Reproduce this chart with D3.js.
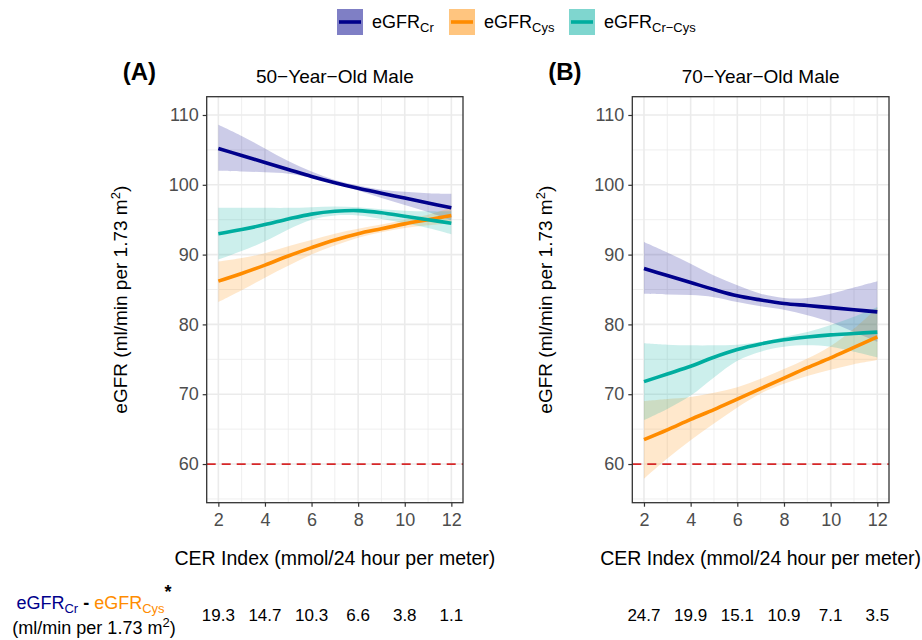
<!DOCTYPE html>
<html>
<head>
<meta charset="utf-8">
<script src="https://cdn.jsdelivr.net/npm/d3@7"></script>
<style>
    html, body { margin: 0; padding: 0; background: #fff; }
    svg { display: block; font-family: "Liberation Sans", Arial, sans-serif; }
</style>
</head>
<body>
<svg id="chart" width="922" height="640"></svg>
<script>
// eGFR vs CER index, two panels (50 and 70 year old male)

const CER = [2, 3, 4, 5, 6, 7, 8, 9, 10, 11, 12];
const X_TICKS = [2, 4, 6, 8, 10, 12];
const Y_TICKS = [60, 70, 80, 90, 100, 110];

// panel A: 50-year-old male
const A_CR_FIT = [105.2, 104.2, 103.2, 102.2, 101.2, 100.3, 99.5, 98.8, 98.1, 97.4, 96.7];
const A_CR_LO  = [102.0, 101.9, 101.8, 101.6, 101.0, 100.1, 99.2, 98.1, 97.1, 96.1, 94.9];
const A_CR_HI  = [108.6, 107.0, 105.2, 103.4, 101.9, 100.7, 99.9, 99.3, 99.0, 98.8, 98.7];
const A_CYS_FIT = [86.2, 87.3, 88.5, 89.8, 91.0, 92.1, 93.0, 93.7, 94.4, 95.0, 95.6];
const A_CYS_LO  = [83.2, 84.9, 86.7, 88.4, 90.0, 91.3, 92.4, 93.2, 93.8, 94.2, 94.5];
const A_CYS_HI  = [89.0, 89.5, 90.2, 91.2, 92.1, 93.0, 93.7, 94.3, 95.0, 95.7, 96.7];
const A_CC_FIT = [93.0, 93.6, 94.3, 95.1, 95.8, 96.2, 96.3, 96.0, 95.5, 95.0, 94.5];
const A_CC_LO  = [89.3, 90.5, 91.9, 93.6, 95.0, 95.6, 95.6, 95.1, 94.5, 93.8, 92.9];
const A_CC_HI  = [96.7, 96.7, 96.7, 96.7, 96.8, 96.9, 96.8, 96.5, 96.3, 96.2, 96.2];

// panel B: 70-year-old male
const B_CR_FIT = [88.0, 87.0, 86.0, 85.0, 84.1, 83.5, 83.0, 82.7, 82.4, 82.1, 81.8];
const B_CR_LO  = [84.4, 84.3, 84.2, 83.9, 83.2, 82.6, 82.1, 81.3, 80.3, 78.9, 77.5];
const B_CR_HI  = [91.8, 90.3, 88.7, 87.0, 85.6, 84.4, 83.8, 83.8, 84.4, 85.3, 86.2];
const B_CYS_FIT = [63.5, 64.9, 66.4, 67.8, 69.3, 70.8, 72.3, 73.8, 75.2, 76.7, 78.2];
const B_CYS_LO  = [57.9, 60.8, 63.4, 65.8, 68.1, 70.1, 71.5, 72.6, 73.5, 74.3, 74.9];
const B_CYS_HI  = [69.0, 69.3, 69.6, 70.2, 71.0, 72.2, 73.6, 75.1, 76.9, 79.4, 82.4];
const B_CC_FIT = [71.8, 72.9, 74.0, 75.3, 76.4, 77.2, 77.8, 78.2, 78.5, 78.7, 78.9];
const B_CC_LO  = [66.3, 67.9, 69.8, 72.4, 74.8, 76.1, 76.8, 77.0, 76.8, 76.1, 75.3];
const B_CC_HI  = [77.3, 77.1, 77.0, 77.0, 77.1, 77.5, 78.2, 78.9, 79.9, 81.1, 82.5];

// eGFRCr - eGFRCys at CER 2,4,...,12
const A_DIFF = ['19.3', '14.7', '10.3', '6.6', '3.8', '1.1'];
const B_DIFF = ['24.7', '19.9', '15.1', '10.9', '7.1', '3.5'];

(function () {
    const COL_CR = '#00008B';
    const COL_CYS = '#FF8C00';
    const COL_CC = '#00AD9F';
    const GRID = '#EBEBEB';
    const FONT_AXIS = 19.5;

    const svg = d3.select('#chart');

    const panels = [
        { tag: '(A)', title: '50\u2212Year\u2212Old Male', left: 206.7, right: 463, diff: A_DIFF,
          series: [
              { fit: A_CR_FIT, lo: A_CR_LO, hi: A_CR_HI, color: COL_CR },
              { fit: A_CYS_FIT, lo: A_CYS_LO, hi: A_CYS_HI, color: COL_CYS },
              { fit: A_CC_FIT, lo: A_CC_LO, hi: A_CC_HI, color: COL_CC }
          ] },
        { tag: '(B)', title: '70\u2212Year\u2212Old Male', left: 632.3, right: 889, diff: B_DIFF,
          series: [
              { fit: B_CR_FIT, lo: B_CR_LO, hi: B_CR_HI, color: COL_CR },
              { fit: B_CYS_FIT, lo: B_CYS_LO, hi: B_CYS_HI, color: COL_CYS },
              { fit: B_CC_FIT, lo: B_CC_LO, hi: B_CC_HI, color: COL_CC }
          ] }
    ];

    const TOP = 96.7, BOTTOM = 502.7;

    const y = d3.scaleLinear().domain([54.46, 112.62]).range([BOTTOM, TOP]);

    panels.forEach(p => drawPanel(p));
    drawLegend();
    drawDiffLabel();

    function drawPanel(p) {
        const x = d3.scaleLinear().domain([1.5, 12.5]).range([p.left, p.right]);
        const g = svg.append('g');

        g.append('rect')
            .attr('x', p.left).attr('y', TOP)
            .attr('width', p.right - p.left).attr('height', BOTTOM - TOP)
            .attr('fill', '#fff');

        // minor grid
        const xMinor = d3.range(3, 12, 2);
        const yMinor = d3.range(55, 115, 10);
        g.selectAll('.xminor').data(xMinor).join('line')
            .attr('x1', d => x(d)).attr('x2', d => x(d))
            .attr('y1', TOP).attr('y2', BOTTOM)
            .attr('stroke', GRID).attr('stroke-width', 0.8);
        g.selectAll('.yminor').data(yMinor).join('line')
            .attr('x1', p.left).attr('x2', p.right)
            .attr('y1', d => y(d)).attr('y2', d => y(d))
            .attr('stroke', GRID).attr('stroke-width', 0.8);

        // major grid
        g.selectAll('.xmajor').data(X_TICKS).join('line')
            .attr('x1', d => x(d)).attr('x2', d => x(d))
            .attr('y1', TOP).attr('y2', BOTTOM)
            .attr('stroke', GRID).attr('stroke-width', 1.6);
        g.selectAll('.ymajor').data(Y_TICKS).join('line')
            .attr('x1', p.left).attr('x2', p.right)
            .attr('y1', d => y(d)).attr('y2', d => y(d))
            .attr('stroke', GRID).attr('stroke-width', 1.6);

        const area = d3.area()
            .x((d, i) => x(CER[i]))
            .y0(d => y(d[0]))
            .y1(d => y(d[1]))
            .curve(d3.curveCatmullRom.alpha(0.5));

        const line = d3.line()
            .x((d, i) => x(CER[i]))
            .y(d => y(d))
            .curve(d3.curveCatmullRom.alpha(0.5));

        p.series.forEach(s => {
            g.append('path')
                .datum(s.lo.map((v, i) => [v, s.hi[i]]))
                .attr('d', area)
                .attr('fill', s.color)
                .attr('fill-opacity', 0.2);
        });

        g.append('line')
            .attr('x1', p.left).attr('x2', p.right)
            .attr('y1', y(60)).attr('y2', y(60))
            .attr('stroke', '#D62728')
            .attr('stroke-width', 1.8)
            .attr('stroke-dasharray', '9,6');

        p.series.forEach(s => {
            g.append('path')
                .datum(s.fit)
                .attr('d', line)
                .attr('fill', 'none')
                .attr('stroke', s.color)
                .attr('stroke-width', 3.6)
                .attr('stroke-linecap', 'butt');
        });

        g.append('rect')
            .attr('x', p.left).attr('y', TOP)
            .attr('width', p.right - p.left).attr('height', BOTTOM - TOP)
            .attr('fill', 'none')
            .attr('stroke', '#333333')
            .attr('stroke-width', 1.3);

        // axes
        const xAxis = d3.axisBottom(x).tickValues(X_TICKS).tickSize(4).tickPadding(4);
        const yAxis = d3.axisLeft(y).tickValues(Y_TICKS).tickSize(4).tickPadding(4);

        const gx = g.append('g').attr('transform', `translate(0,${BOTTOM})`).call(xAxis);
        const gy = g.append('g').attr('transform', `translate(${p.left},0)`).call(yAxis);
        [gx, gy].forEach(a => {
            a.select('.domain').remove();
            a.selectAll('.tick line').attr('stroke', '#333333').attr('stroke-width', 1.2);
            a.selectAll('.tick text')
                .attr('fill', '#4D4D4D')
                .style('font-family', '"Liberation Sans", Arial, sans-serif')
                .style('font-size', '18px');
        });
        gx.selectAll('.tick text').attr('dy', '0.85em');

        const cx = (p.left + p.right) / 2;

        g.append('text')
            .attr('x', cx).attr('y', 83)
            .attr('text-anchor', 'middle')
            .style('font-size', '19px')
            .text(p.title);

        g.append('text')
            .attr('x', p.left - 84).attr('y', 80)
            .attr('font-weight', 'bold')
            .style('font-size', '24px')
            .text(p.tag);

        g.append('text')
            .attr('x', cx).attr('y', 565)
            .attr('text-anchor', 'middle')
            .style('font-size', FONT_AXIS + 'px')
            .text('CER Index (mmol/24 hour per meter)');

        const yt = g.append('text')
            .attr('transform', `translate(${p.left - 80},${(TOP + BOTTOM) / 2}) rotate(-90)`)
            .attr('text-anchor', 'middle')
            .style('font-size', '19px');
        yt.append('tspan').text('eGFR (ml/min per 1.73 m');
        yt.append('tspan').attr('dy', -7).style('font-size', '13px').text('2');
        yt.append('tspan').attr('dy', 7).text(')');

        // difference row under the axis
        g.selectAll('.diff').data(p.diff).join('text')
            .attr('x', (d, i) => x(X_TICKS[i]))
            .attr('y', 621)
            .attr('text-anchor', 'middle')
            .style('font-size', '17px')
            .text(d => d);
    }

    function drawLegend() {
        const items = [
            { label: 'eGFR', sub: 'Cr', color: COL_CR, x: 337 },
            { label: 'eGFR', sub: 'Cys', color: COL_CYS, x: 449 },
            { label: 'eGFR', sub: 'Cr\u2212Cys', color: COL_CC, x: 569 }
        ];
        const lg = svg.append('g');
        items.forEach(it => {
            lg.append('rect')
                .attr('x', it.x).attr('y', 9)
                .attr('width', 26).attr('height', 26)
                .attr('fill', it.color).attr('fill-opacity', 0.5);
            lg.append('line')
                .attr('x1', it.x + 2).attr('x2', it.x + 24)
                .attr('y1', 22).attr('y2', 22)
                .attr('stroke', it.color).attr('stroke-width', 3.6);
            const t = lg.append('text')
                .attr('x', it.x + 35).attr('y', 28)
                .style('font-size', '18px');
            t.append('tspan').text(it.label);
            t.append('tspan').attr('dy', 4).style('font-size', '13px').text(it.sub);
        });
    }

    function drawDiffLabel() {
        const cx = 94;
        const t1 = svg.append('text')
            .attr('x', cx).attr('y', 609)
            .attr('text-anchor', 'middle')
            .style('font-size', '18px');
        t1.append('tspan').attr('fill', COL_CR).text('eGFR');
        t1.append('tspan').attr('fill', COL_CR).attr('dy', 4).style('font-size', '13px').text('Cr');
        t1.append('tspan').attr('dy', -4).attr('font-weight', 'bold').text(' - ');
        t1.append('tspan').attr('fill', COL_CYS).text('eGFR');
        t1.append('tspan').attr('fill', COL_CYS).attr('dy', 4).style('font-size', '13px').text('Cys');
        t1.append('tspan').attr('dy', -15).attr('font-weight', 'bold').style('font-size', '18px').text('*');

        const t2 = svg.append('text')
            .attr('x', cx).attr('y', 634)
            .attr('text-anchor', 'middle')
            .style('font-size', '18px');
        t2.append('tspan').text('(ml/min per 1.73 m');
        t2.append('tspan').attr('dy', -7).style('font-size', '13px').text('2');
        t2.append('tspan').attr('dy', 7).text(')');
    }
})();
</script>
</body>
</html>
